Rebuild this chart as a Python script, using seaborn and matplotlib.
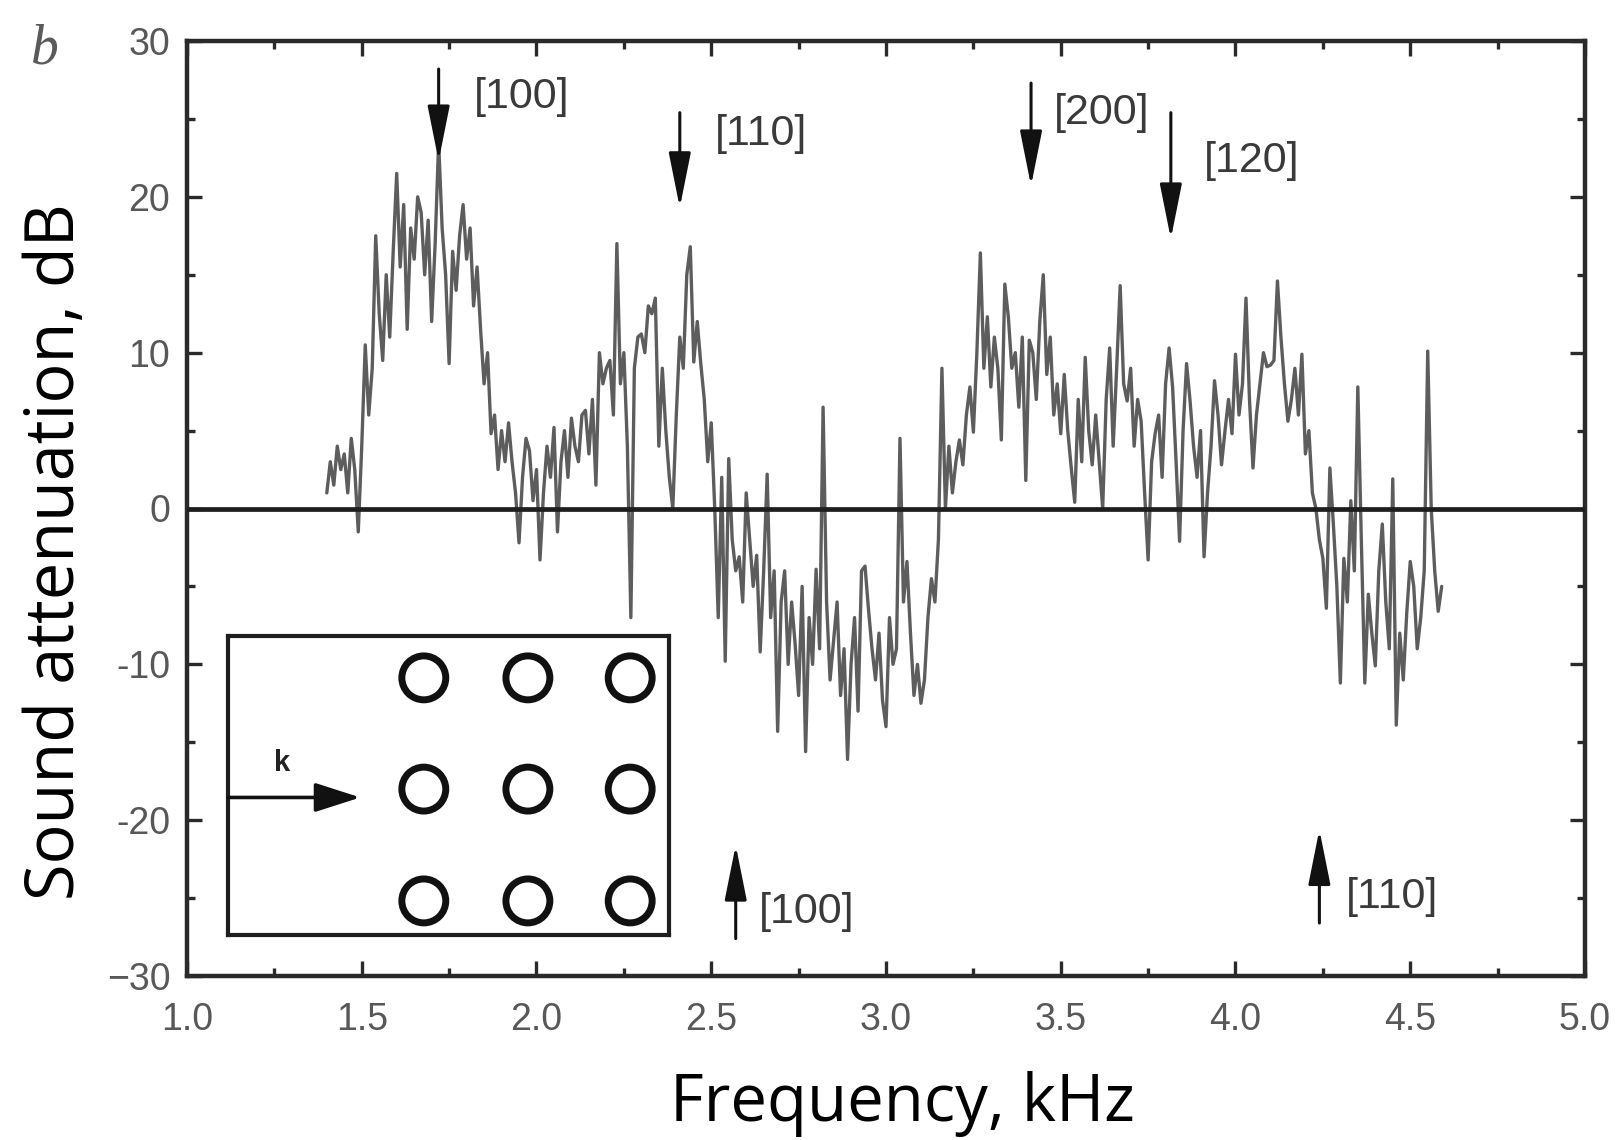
import numpy as np
import matplotlib
matplotlib.use("Agg")
import matplotlib.pyplot as plt
import seaborn as sns

# ---------------- data ----------------
freq_start, freq_step = 1.40, 0.01
atten_db = [
    1.0, 3.0, 1.5, 4.0, 2.5, 3.5, 1.0, 4.5, 2.5, -1.5,          # 1.40
    4.0, 10.5, 6.0, 9.0, 17.5, 12.5, 9.5, 15.0, 11.0, 16.5,     # 1.50
    21.5, 15.5, 19.5, 11.5, 18.0, 16.0, 20.0, 19.0, 15.0, 18.5, # 1.60
    12.0, 17.0, 23.5, 18.0, 15.0, 9.3, 16.5, 14.0, 17.5, 19.5,  # 1.70
    16.0, 18.0, 13.0, 15.5, 11.5, 8.0, 10.0, 4.8, 6.0, 2.5,     # 1.80
    5.0, 3.0, 5.5, 3.0, 1.0, -2.2, 2.0, 4.5, 3.7, 0.5,          # 1.90
    2.5, -3.3, 1.0, 4.0, 2.0, 5.2, -1.5, 3.0, 5.0, 2.0,         # 2.00
    5.8, 4.0, 3.0, 6.0, 6.3, 3.5, 7.0, 1.5, 10.0, 8.0,          # 2.10
    9.0, 9.5, 6.0, 17.0, 8.0, 10.0, 4.0, -7.0, 9.0, 11.0,       # 2.20
    11.2, 10.0, 13.0, 12.5, 13.5, 4.0, 9.0, 5.0, 2.0, 0.0,      # 2.30
    6.0, 11.0, 9.0, 15.0, 16.8, 9.4, 12.0, 9.3, 7.0, 3.0,       # 2.40
    5.5, 0.0, -7.0, 2.0, -9.8, 3.2, -2.0, -4.0, -3.1, -6.0,     # 2.50
    1.0, -2.0, -5.0, -3.0, -9.2, -4.0, 2.2, -7.0, -4.0, -14.3,  # 2.60
    -6.0, -4.0, -10.0, -6.0, -8.7, -12.0, -5.0, -15.6, -7.0, -10.0,  # 2.70
    -3.9, -9.0, 6.5, -6.0, -11.0, -8.5, -6.0, -12.0, -9.0, -16.1,    # 2.80
    -10.0, -7.0, -13.0, -4.0, -3.7, -6.5, -9.0, -11.0, -8.0, -12.3,  # 2.90
    -14.0, -7.0, -10.0, -9.0, 4.5, -6.0, -3.4, -8.0, -12.0, -10.0,   # 3.00
    -12.5, -11.0, -7.0, -4.5, -6.0, -2.0, 9.0, 0.0, 4.0, 1.0,        # 3.10
    3.0, 4.4, 2.8, 6.0, 7.8, 4.9, 10.0, 16.4, 9.0, 12.3,        # 3.20
    7.8, 11.0, 9.0, 4.4, 14.4, 12.3, 9.0, 10.0, 6.5, 11.0,      # 3.30
    1.8, 10.8, 10.0, 7.0, 12.0, 15.0, 8.6, 11.0, 6.0, 8.0,      # 3.40
    4.8, 8.6, 5.0, 2.6, 0.4, 7.0, 3.0, 9.7, 5.0, 2.8,           # 3.50
    6.0, 3.0, 0.0, 7.0, 10.3, 4.0, 9.0, 14.3, 8.0, 6.9,         # 3.60
    9.0, 4.0, 7.0, 5.6, 1.0, -3.3, 3.0, 4.8, 6.0, 2.0,          # 3.70
    8.0, 10.3, 7.8, 3.0, -2.1, 5.0, 9.3, 6.9, 4.0, 2.0,         # 3.80
    5.0, -3.1, 1.0, 4.0, 8.2, 6.0, 2.8, 5.0, 7.0, 4.8,          # 3.90
    9.9, 6.0, 8.0, 13.5, 7.0, 2.6, 6.0, 8.0, 10.0, 9.1,         # 4.00
    9.2, 9.5, 14.6, 11.0, 8.0, 5.6, 7.0, 9.0, 6.0, 9.9,         # 4.10
    3.5, 5.0, 1.0, 0.0, -2.0, -3.2, -6.4, 2.6, -1.0, -5.0,      # 4.20
    -11.2, -3.2, -6.0, 0.5, -4.0, 7.8, -2.0, -11.2, -5.5, -8.0, # 4.30
    -10.1, -4.0, -1.0, -6.0, -9.0, 1.9, -13.9, -8.0, -11.0, -6.7,  # 4.40
    -3.4, -5.0, -9.0, -7.0, -4.0, 10.1, 0.0, -4.0, -6.6, -5.0,  # 4.50
]
freq_khz = np.round(freq_start + freq_step * np.arange(len(atten_db)), 3)

# Bragg markers (down arrows at top, up arrows at bottom)
down_freqs = [1.72, 2.41, 3.415, 3.815]
down_tails = [28.2, 25.4, 27.3, 25.4]
down_tips = [22.3, 19.3, 20.7, 17.3]
down_labels = ["[100]", "[110]", "[200]", "[120]"]
down_label_x = [1.822, 2.511, 3.481, 3.910]
down_label_y = [26.4, 24.0, 25.4, 22.3]

up_freqs = [2.57, 4.24]
up_tails = [-27.6, -26.6]
up_tips = [-21.6, -20.6]
up_labels = ["[100]", "[110]"]
up_label_x = [2.637, 4.316]
up_label_y = [-25.9, -24.9]

# inset lattice (inset axes fraction coordinates)
lattice_cols = [0.444, 0.680, 0.912]
lattice_rows = [0.860, 0.488, 0.114]

x_ticks = [1.0, 1.5, 2.0, 2.5, 3.0, 3.5, 4.0, 4.5, 5.0]
x_ticklabels = ["1.0", "1.5", "2.0", "2.5", "3.0", "3.5", "4.0", "4.5", "5.0"]
y_ticks = [-30, -20, -10, 0, 10, 20, 30]
y_ticklabels = ["\u221230", "-20", "-10", "0", "10", "20", "30"]

# ---------------- figure ----------------
sns.set_theme(style="ticks")
plt.rcParams["font.family"] = ["Liberation Sans", "DejaVu Sans"]

W, H = 1624, 1140
fig = plt.figure(figsize=(W / 100, H / 100), dpi=100)
fig.patch.set_facecolor("white")
ax = fig.add_axes([187 / W, 1 - 976 / H, (1585 - 187) / W, (976 - 41) / H])
ax.set_facecolor("white")

sns.lineplot(x=freq_khz, y=atten_db, ax=ax, estimator=None, sort=False,
             color="#353535", lw=2.4, alpha=0.8)
ax.axhline(0, color="#1e1e1e", lw=3.4, zorder=3)

ax.set_xlim(1.0, 5.0)
ax.set_ylim(-30, 30)
ax.set_xticks(x_ticks)
ax.set_xticklabels(x_ticklabels)
ax.set_yticks(y_ticks)
ax.set_yticklabels(y_ticklabels)
ax.set_xticks(np.arange(1.25, 5.0, 0.5), minor=True)
ax.set_yticks(np.arange(-25, 30, 10), minor=True)
ax.tick_params(which="both", direction="in", top=True, right=True,
               color="#2a2a2a", width=2.4)
ax.tick_params(which="major", length=11)
ax.tick_params(which="minor", length=6)
ax.tick_params(axis="x", which="major", pad=19, labelsize=27, labelcolor="#585858")
ax.tick_params(axis="y", which="major", pad=12, labelsize=27, labelcolor="#585858")
for s in ax.spines.values():
    s.set_linewidth(3.2)
    s.set_color("#2a2a2a")
ax.set_xlabel("")
ax.set_ylabel("")

# arrows and labels
arrow_kw = dict(arrowstyle="-|>,head_length=1.7,head_width=0.34",
                color="#111111", lw=2.2, mutation_scale=20, shrinkA=0, shrinkB=0)
for f, t0, t1 in zip(down_freqs, down_tails, down_tips):
    ax.annotate("", xy=(f, t1), xytext=(f, t0), arrowprops=arrow_kw)
for f, t0, t1 in zip(up_freqs, up_tails, up_tips):
    ax.annotate("", xy=(f, t1), xytext=(f, t0), arrowprops=arrow_kw)
for lx, ly, lab in zip(down_label_x + up_label_x, down_label_y + up_label_y,
                       down_labels + up_labels):
    ax.text(lx, ly, lab, ha="left", va="center", fontsize=31,
            color="#3a3a3a")

# inset lattice diagram
ins = fig.add_axes([228 / W, 1 - 935 / H, (669 - 228) / W, (935 - 636) / H])
ins.set_xlim(0, 1)
ins.set_ylim(0, 1)
ins.set_xticks([])
ins.set_yticks([])
for s in ins.spines.values():
    s.set_linewidth(3.0)
    s.set_color("#1e1e1e")
ins.patch.set_alpha(0)
lx_all = [c for r in lattice_rows for c in lattice_cols]
ly_all = [r for r in lattice_rows for c in lattice_cols]
sns.scatterplot(x=lx_all, y=ly_all, ax=ins, s=1000, marker="o",
                facecolor="none", edgecolor="#111111", linewidth=5.0)
ins.annotate("", xy=(0.30, 0.46), xytext=(0.0, 0.46),
             arrowprops=dict(arrowstyle="-|>,head_length=1.4,head_width=0.45",
                             color="#111111", lw=2.6, mutation_scale=20,
                             shrinkA=0, shrinkB=0))
ins.text(0.122, 0.575, "k", ha="center", va="center", fontsize=21,
         fontweight="bold", color="#222222")
ins.set_xlabel("")
ins.set_ylabel("")

# axis titles and panel letter
fig.text(902 / W, 1 - 1121 / H, "Frequency, kHz", ha="center", va="baseline",
         fontsize=47, family=["Open Sans", "DejaVu Sans"], color="black")
fig.text(56 / W, 1 - 552 / H, "Sound attenuation, dB", ha="center", va="center",
         rotation=90, fontsize=48, family=["Open Sans", "DejaVu Sans"], color="black")
fig.text(45 / W, 1 - 50 / H, "b", ha="center", va="center", fontsize=40,
         style="italic", family=["Liberation Serif", "DejaVu Serif"], color="#5a5a5a")

fig.savefig("out.png", dpi=100, facecolor="white")
